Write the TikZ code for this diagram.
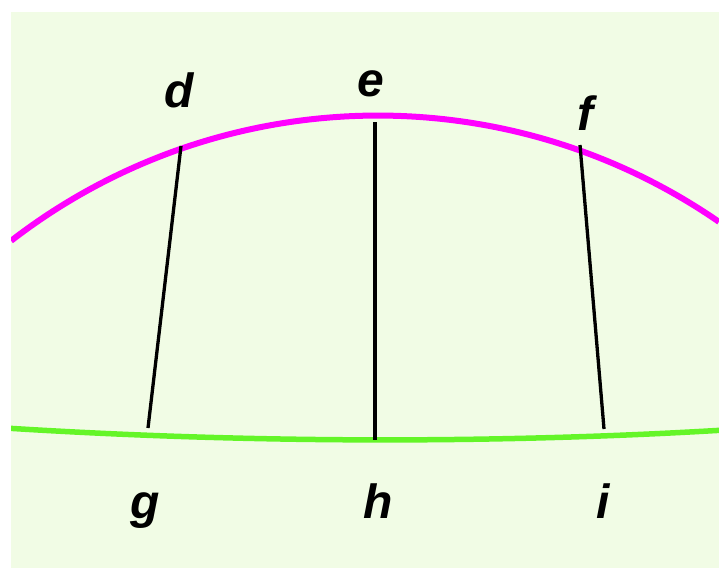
\documentclass[tikz,border=0pt]{standalone}
\usepackage{fontspec}
\setmainfont{Liberation Sans}
\definecolor{bgc}{RGB}{241,252,229}
\definecolor{mag}{RGB}{255,0,255}
\definecolor{grn}{RGB}{100,245,40}
\tikzset{
  lbl/.style={anchor=base, font=\fontsize{48}{48}\selectfont\bfseries\itshape, inner sep=0pt},
  seg/.style={line width=3.3pt, black},
}
\begin{document}
\begin{tikzpicture}[x=1pt,y=1pt]
\useasboundingbox (0,0) rectangle (719,-568);
\fill[bgc] (11,-12) rectangle (719,-568);
\begin{scope}
\clip (11,-12) rectangle (719,-568);
\draw[mag, line width=6pt] (378,-715.5) ++(127.7:600) arc[start angle=127.7, end angle=55.37, radius=600];
\draw[grn, line width=5.5pt] (5,-428) .. controls (250,-443.5) and (500,-443.5) .. (725,-430);
\end{scope}
\coordinate (d1) at (181,-146);
\coordinate (g1) at (148,-428);
\coordinate (e1) at (375,-122);
\coordinate (h1) at (375,-440);
\coordinate (f1) at (580,-145);
\coordinate (i1) at (604,-429);
\draw[seg] (d1) -- (g1);
\draw[seg] (e1) -- (h1);
\draw[seg] (f1) -- (i1);
\node[lbl] (d) at (179,-107) {d};
\node[lbl] (e) at (371,-96) {e};
\node[lbl] (f) at (585,-130) {f};
\node[lbl] (g) at (145,-518) {g};
\node[lbl] (h) at (378,-518) {h};
\node[lbl] (i) at (603,-518) {i};
\end{tikzpicture}
\end{document}
